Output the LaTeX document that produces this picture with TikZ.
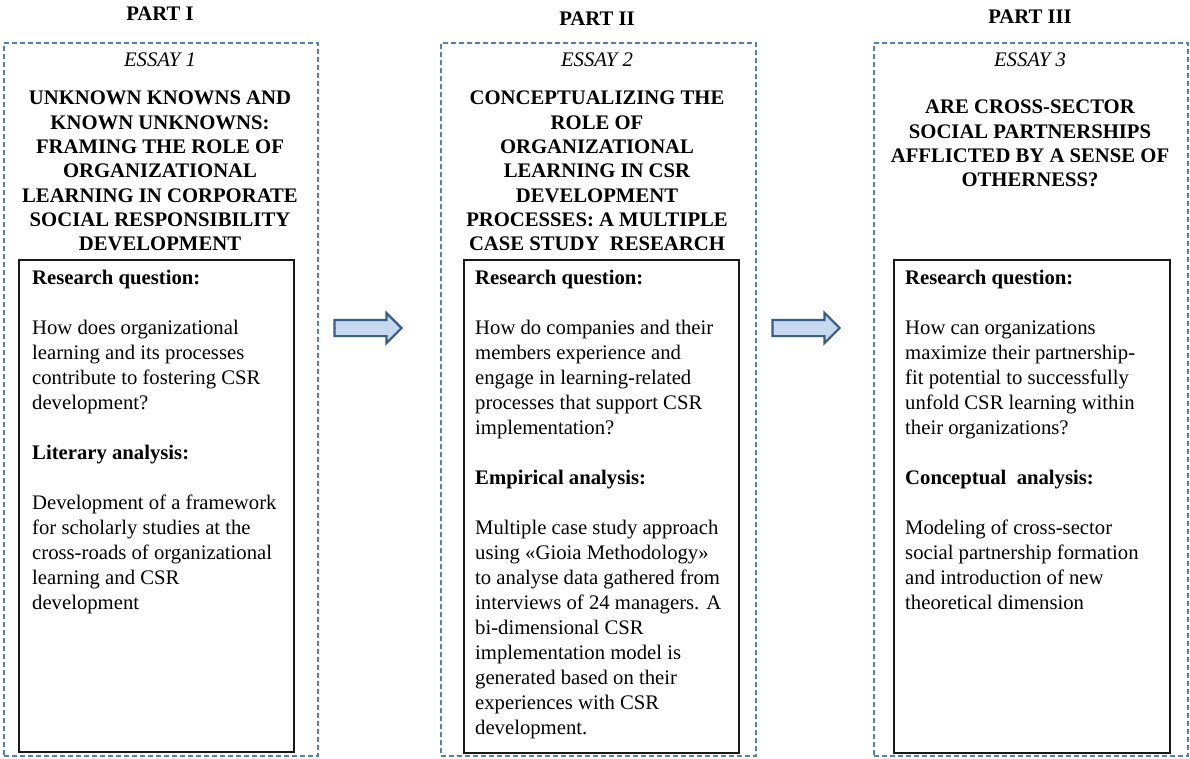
\documentclass[tikz,border=0pt]{standalone}
\usepackage{fontspec}
\setmainfont{Liberation Serif}
\usepackage{xcolor}
\usepackage{tikz}
\usetikzlibrary{shapes.arrows}

\definecolor{dashblue}{RGB}{79,129,189}
\definecolor{arrowfill}{RGB}{198,217,241}
\definecolor{arrowline}{RGB}{56,93,138}

\begin{document}
\begin{tikzpicture}[x=1pt,y=-1pt,every node/.style={inner sep=0pt,font=\fontsize{20.7}{25}\selectfont},
    essay/.style={draw=dashblue,line width=2pt,dash pattern=on 5pt off 3pt,anchor=north west},
    box/.style={draw=black!90,line width=1.6pt,anchor=north west},
    part/.style={anchor=base,font=\fontsize{20.7}{25}\selectfont\bfseries},
    tag/.style={anchor=base,font=\fontsize{20.7}{25}\selectfont\itshape},
    title/.style={anchor=north,align=center,font=\fontsize{20.7}{24.3}\selectfont\bfseries},
    body/.style={anchor=north west,align=left},
    next/.style={single arrow,draw=arrowline,fill=arrowfill,line width=2.2pt,inner sep=7pt,minimum height=67pt,minimum width=28pt,single arrow head extend=7pt,single arrow head indent=0pt}]
\useasboundingbox (0,0) rectangle (1190,758);

% the three dashed frames
\node[essay,minimum width=314pt,minimum height=713pt] (essay1) at (3,42) {};
\node[essay,minimum width=315pt,minimum height=713pt] (essay2) at (440,42) {};
\node[essay,minimum width=314pt,minimum height=713pt] (essay3) at (873,42) {};

\node[part] (part1) at (160,20) {PART I};
\node[part] (part2) at (597,25) {PART II};
\node[part] (part3) at (1030,23) {PART III};

\node[tag] (tag1) at (160,66) {ESSAY 1};
\node[tag] (tag2) at (597,66) {ESSAY 2};
\node[tag] (tag3) at (1030,66) {ESSAY 3};

\node[title] (title1) at (160,91) {UNKNOWN KNOWNS AND\\KNOWN UNKNOWNS:\\FRAMING THE ROLE OF\\ORGANIZATIONAL\\LEARNING IN CORPORATE\\SOCIAL RESPONSIBILITY\\DEVELOPMENT};
\node[title] (title2) at (597,91) {CONCEPTUALIZING THE\\ROLE OF\\ORGANIZATIONAL\\LEARNING IN CSR\\DEVELOPMENT\\PROCESSES: A MULTIPLE\\CASE STUDY\ \ RESEARCH};
\node[title] (title3) at (1030,100) {ARE CROSS-SECTOR\\SOCIAL PARTNERSHIPS\\AFFLICTED BY A SENSE OF\\OTHERNESS?};

% inner boxes with the questions
\node[box,minimum width=275pt,minimum height=492pt] (box1) at (18,259) {};
\node[box,minimum width=275pt,minimum height=493pt] (box2) at (463,259) {};
\node[box,minimum width=276pt,minimum height=493pt] (box3) at (893,259) {};

\node[body] (text1) at (32,270) {\textbf{Research question:}\\[25pt]
  How does organizational\\learning and its processes\\contribute to fostering CSR\\development?\\[25pt]
  \textbf{Literary analysis:}\\[25pt]
  Development of a framework\\for scholarly studies at the\\cross-roads of organizational\\learning and CSR\\development};
\node[body] (text2) at (475,270) {\textbf{Research question:}\\[25pt]
  How do companies and their\\members experience and\\engage in learning-related\\processes that support CSR\\implementation?\\[25pt]
  \textbf{Empirical analysis:}\\[25pt]
  Multiple case study approach\\using «Gioia Methodology»\\to analyse data gathered from\\interviews of 24 managers. A\\bi-dimensional CSR\\implementation model is\\generated based on their\\experiences with CSR\\development.};
\node[body] (text3) at (905,270) {\textbf{Research question:}\\[25pt]
  How can organizations\\maximize their partnership-\\fit potential to successfully\\unfold CSR learning within\\their organizations?\\[25pt]
  \textbf{Conceptual\ \ analysis:}\\[25pt]
  Modeling of cross-sector\\social partnership formation\\and introduction of new\\theoretical dimension};

% block arrows between the parts
\node[next] (arrow1) at (364,328) {};
\node[next] (arrow2) at (802,328) {};
\end{tikzpicture}
\end{document}
